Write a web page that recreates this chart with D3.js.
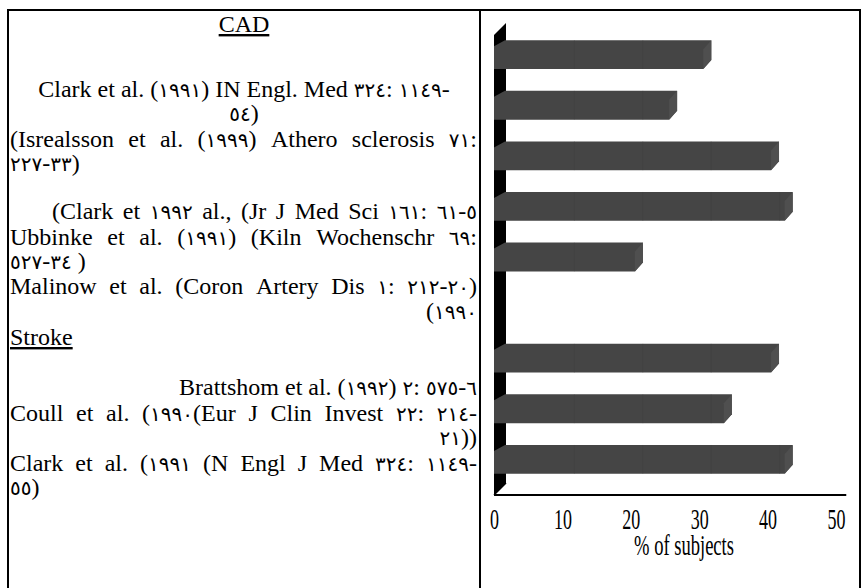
<!DOCTYPE html>
<html>
<head>
<meta charset="utf-8">
<script src="https://cdn.jsdelivr.net/npm/d3@7/dist/d3.min.js"></script>
<style>
  html, body { margin: 0; padding: 0; background: #fff; }
  svg { display: block; }
  .cite { font-family: "Liberation Serif", "Times New Roman", "DejaVu Sans", serif; font-size: 24px; fill: #000; unicode-bidi: bidi-override; direction: ltr; }
  .cite tspan { unicode-bidi: bidi-override; direction: ltr; }
  .cite tspan.num { font-size: 20px; font-family: "DejaVu Sans", sans-serif; }
  .axis-text { font-family: "Liberation Serif", "Times New Roman", serif; fill: #000; }
</style>
</head>
<body>
<svg id="chart" width="861" height="588"></svg>
<script>
// Study labels, one per bar slot (slot 6 separates the CAD and stroke groups)
const studies = ["Clark 1991", "Israelsson 1999", "Clark 1992", "Ubbink 1991", "Malinow 1990",
                 "gap", "Brattström 1992", "Coull 1990", "Clark 1991 (stroke)"];
// Percentage of subjects with hyperhomocysteinaemia in each study
const percentSubjects = [30.6, 25.6, 40.5, 42.5, 20.6, null, 40.5, 33.6, 42.5];
// Axis tick values and title
const xTicks = [0, 10, 20, 30, 40, 50];
const xTitle = "% of subjects";

// Citation text, line by line, with its alignment inside the cell
const citeLines = [
  ["CAD", "center-u"],
  ["Clark et al. (١٩٩١) IN Engl. Med ٣٢٤: ١١٤٩-", "center"],
  ["٥٤)", "center"],
  ["(Isrealsson et al. (١٩٩٩) Athero sclerosis ٧١:", "justify"],
  ["٢٢٧-٣٣)", "left"],
  ["(Clark et ١٩٩٢ al., (Jr J Med Sci ١٦١: ٦١-٥", "indent"],
  ["Ubbinke et al. (١٩٩١) (Kiln Wochenschr ٦٩:", "justify"],
  ["٥٢٧-٣٤ )", "left"],
  ["Malinow et al.  (Coron Artery Dis ١: ٢١٢-٢٠)", "justify"],
  ["(١٩٩٠", "right"],
  ["Stroke", "left-u"],
  ["Brattshom et al. (١٩٩٢) ٢: ٥٧٥-٦", "right"],
  ["Coull et al. (١٩٩٠(Eur J Clin Invest ٢٢: ٢١٤-", "justify"],
  ["٢١))", "right"],
  ["Clark et al. (١٩٩١ (N Engl J Med ٣٢٤: ١١٤٩-", "justify"],
  ["٥٥)", "left"]
];
const citeBaselines = [32, 97, 121, 147, 171, 219, 245, 269, 294, 319, 345, 395, 421, 445, 471, 495];

const svg = d3.select("#chart");

// ---- table frame ----
const frame = { left: 8, top: 10, right: 860, bottom: 600, divider: 480 };
svg.append("path")
  .attr("d", `M${frame.left},${frame.bottom}V${frame.top}H${frame.right}V${frame.bottom}M${frame.divider},${frame.top}V${frame.bottom}`)
  .attr("fill", "none").attr("stroke", "#000").attr("stroke-width", 2);

// ---- citation column ----
const cellL = 10, cellR = 477, cellC = 244, indentL = 52;
const cg = svg.append("g");

// writes a string into a text element, setting Arabic-Indic digit runs in their own tspans
function fillRuns(sel, str) {
  str.split(/([\u0660-\u0669]+)/).filter(s => s.length).forEach(part => {
    sel.append("tspan").attr("class", /[\u0660-\u0669]/.test(part) ? "num" : null).text(part);
  });
  return sel;
}

citeLines.forEach(([txt, align], i) => {
  const y = citeBaselines[i];
  if (align === "justify" || align === "indent") {
    const left = align === "indent" ? indentL : cellL;
    const words = txt.split(/\s+/);
    const nodes = words.map(w => fillRuns(cg.append("text").attr("class", "cite").attr("y", y), w));
    const widths = nodes.map(n => n.node().getComputedTextLength());
    const total = d3.sum(widths);
    const gap = (cellR - left - total) / (words.length - 1);
    let x = left;
    nodes.forEach((n, k) => { n.attr("x", x); x += widths[k] + gap; });
  } else {
    const t = fillRuns(cg.append("text").attr("class", "cite").attr("y", y), txt);
    if (align.startsWith("center")) t.attr("x", cellC).attr("text-anchor", "middle");
    else if (align === "right") t.attr("x", cellR).attr("text-anchor", "end");
    else t.attr("x", cellL);
    if (align.endsWith("-u")) t.attr("text-decoration", "underline");
  }
});

// ---- bar chart ----
const x = d3.scaleLinear().domain([0, 50]).range([494, 836]);
const y = d3.scaleBand().domain(studies).range([24, 490]).paddingInner(0.43).paddingOuter(0.32);
const floorY = 495;
const depth = { dx: 12, dy: 12 };   // side wall depth
const cap = { dx: 8, dy: 9 };       // bevel at the bar ends

const chart = svg.append("g");

// side wall
chart.append("path")
  .attr("d", `M${x(0)},${y.range()[0] + 11}L${x(0) + depth.dx},${y.range()[0] - 1}L${x(0) + depth.dx},${floorY - depth.dy}L${x(0)},${floorY}Z`)
  .attr("fill", "#000");

// floor edge
chart.append("line")
  .attr("x1", x(0)).attr("y1", floorY).attr("x2", x(0) + depth.dx).attr("y2", floorY - depth.dy)
  .attr("stroke", "#000").attr("stroke-width", 1.5);

const bars = studies.map((s, i) => ({ s, v: percentSubjects[i] })).filter(d => d.v != null);

const barG = chart.selectAll("g.bar").data(bars).join("g").attr("class", "bar");
barG.append("path")
  .attr("d", d => {
    const y0 = y(d.s), y1 = y0 + y.bandwidth(), xe = x(d.v);
    return `M${x(0)},${y0 + 6}L${x(0) + 11},${y0}L${xe + cap.dx},${y0}L${xe + cap.dx},${y1 - cap.dy}L${xe},${y1}L${x(0)},${y1}Z`;
  })
  .attr("fill", "#454545");
barG.append("path")
  .attr("d", d => {
    const y0 = y(d.s), y1 = y0 + y.bandwidth(), xe = x(d.v);
    return `M${xe},${y0 + cap.dy}L${xe + cap.dx},${y0}L${xe + cap.dx},${y1 - cap.dy}L${xe},${y1}Z`;
  })
  .attr("fill", "#4f4f4f");
// faint grid seen through the bars on the back plane
barG.selectAll("line.grid")
  .data(d => xTicks.slice(1, 5).filter(t => x(t) + depth.dx < x(d.v)).map(t => ({ t, d })))
  .join("line").attr("class", "grid")
  .attr("x1", g => x(g.t) + depth.dx).attr("x2", g => x(g.t) + depth.dx)
  .attr("y1", g => y(g.d.s)).attr("y2", g => y(g.d.s) + y.bandwidth())
  .attr("stroke", "#3c3c3c").attr("stroke-width", 1).attr("opacity", 0.3);

// x axis
chart.append("line")
  .attr("x1", x(0)).attr("x2", x(51.5)).attr("y1", floorY).attr("y2", floorY)
  .attr("stroke", "#000").attr("stroke-width", 2);

const axis = d3.axisBottom(x).tickValues(xTicks).tickSize(0).tickFormat(d3.format("d"));
const axG = chart.append("g").attr("transform", `translate(0,${floorY})`).call(axis);
axG.select(".domain").remove();
axG.selectAll("text")
  .attr("class", "axis-text")
  .attr("y", 34).attr("dy", 0)
  .attr("font-size", 30)
  .attr("transform", "scale(0.6,1)");

chart.append("text")
  .attr("class", "axis-text")
  .attr("font-size", 29)
  .attr("text-anchor", "middle")
  .attr("transform", `translate(684,555) scale(0.64,1)`)
  .text(xTitle);
</script>
</body>
</html>
